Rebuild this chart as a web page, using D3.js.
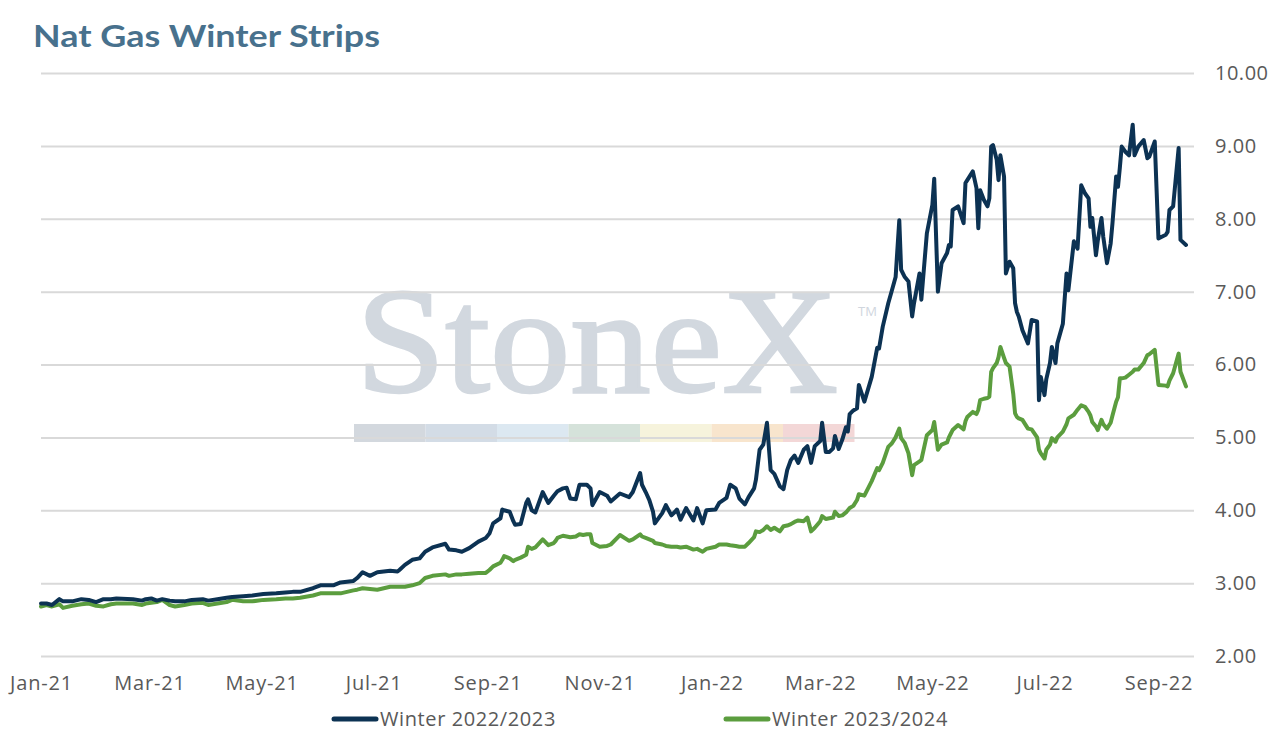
<!DOCTYPE html>
<html>
<head>
<meta charset="utf-8">
<script src="https://cdn.jsdelivr.net/npm/d3@7"></script>
<style>
  body { margin: 0; background: #fff; }
  svg { display: block; }
</style>
</head>
<body>
<svg width="1272" height="743"></svg>
<script>
// dates shared by both strips
var dates = [
  "2021-01-01","2021-01-04","2021-01-07","2021-01-11","2021-01-13","2021-01-18","2021-01-23","2021-01-27","2021-01-31",
  "2021-02-04","2021-02-08","2021-02-11","2021-02-20","2021-02-25","2021-02-27",
  "2021-03-02","2021-03-05","2021-03-08","2021-03-12","2021-03-15","2021-03-20","2021-03-24","2021-03-30",
  "2021-04-02","2021-04-07","2021-04-12","2021-04-15","2021-04-21","2021-04-26",
  "2021-05-02","2021-05-09","2021-05-14","2021-05-18","2021-05-22","2021-05-29",
  "2021-06-02","2021-06-09","2021-06-13","2021-06-20","2021-06-22","2021-06-25","2021-06-29",
  "2021-07-03","2021-07-10","2021-07-14","2021-07-15","2021-07-18","2021-07-22","2021-07-26","2021-07-29",
  "2021-08-02","2021-08-09","2021-08-11","2021-08-15","2021-08-18","2021-08-22","2021-08-27","2021-08-31",
  "2021-09-02","2021-09-04","2021-09-08","2021-09-09","2021-09-10","2021-09-13","2021-09-15","2021-09-16","2021-09-19",
  "2021-09-22","2021-09-23","2021-09-25","2021-09-27",
  "2021-10-01","2021-10-04","2021-10-07","2021-10-08","2021-10-09","2021-10-12","2021-10-14","2021-10-16","2021-10-19",
  "2021-10-21","2021-10-23","2021-10-25","2021-10-27","2021-10-28",
  "2021-11-01","2021-11-05","2021-11-07","2021-11-12","2021-11-17","2021-11-19","2021-11-23","2021-11-24","2021-11-26","2021-11-28","2021-11-30",
  "2021-12-01","2021-12-05","2021-12-07","2021-12-10","2021-12-12","2021-12-13","2021-12-15","2021-12-18","2021-12-22","2021-12-24","2021-12-27","2021-12-29",
  "2022-01-03","2022-01-05","2022-01-09","2022-01-11","2022-01-14","2022-01-16","2022-01-19","2022-01-21","2022-01-24","2022-01-25","2022-01-27","2022-01-29","2022-01-31",
  "2022-02-02","2022-02-04","2022-02-07","2022-02-09","2022-02-11","2022-02-13","2022-02-15","2022-02-17","2022-02-20","2022-02-22","2022-02-24","2022-02-26",
  "2022-03-01","2022-03-02","2022-03-04","2022-03-06","2022-03-08","2022-03-09","2022-03-11","2022-03-13","2022-03-15","2022-03-16","2022-03-17","2022-03-19",
  "2022-03-21","2022-03-22","2022-03-25","2022-03-29",
  "2022-04-01","2022-04-02","2022-04-04","2022-04-07","2022-04-09","2022-04-11","2022-04-13","2022-04-14","2022-04-16","2022-04-18","2022-04-20","2022-04-21",
  "2022-04-24","2022-04-25","2022-04-28",
  "2022-05-01","2022-05-02","2022-05-04","2022-05-06","2022-05-09","2022-05-10","2022-05-11","2022-05-12","2022-05-15","2022-05-18","2022-05-19","2022-05-20",
  "2022-05-23","2022-05-25","2022-05-26","2022-05-27","2022-05-29","2022-05-31",
  "2022-06-01","2022-06-02","2022-06-03","2022-06-05","2022-06-06","2022-06-07","2022-06-09","2022-06-10","2022-06-12","2022-06-14","2022-06-15","2022-06-16",
  "2022-06-17","2022-06-19","2022-06-22","2022-06-24","2022-06-27","2022-06-28","2022-06-29",
  "2022-07-01","2022-07-02","2022-07-04","2022-07-05","2022-07-07","2022-07-08","2022-07-11","2022-07-13","2022-07-14","2022-07-17","2022-07-19","2022-07-21",
  "2022-07-23","2022-07-25","2022-07-26","2022-07-27","2022-07-29","2022-07-30",
  "2022-08-01","2022-08-02","2022-08-04","2022-08-06","2022-08-07","2022-08-09","2022-08-10","2022-08-11","2022-08-12","2022-08-14","2022-08-16","2022-08-18",
  "2022-08-19","2022-08-21","2022-08-24","2022-08-26","2022-08-27","2022-08-30",
  "2022-09-01","2022-09-05","2022-09-06","2022-09-07","2022-09-09","2022-09-12","2022-09-13","2022-09-16"
];

var winter2223 = [
  2.72,2.72,2.70,2.78,2.75,2.75,2.78,2.77,2.74,
  2.78,2.78,2.79,2.78,2.76,2.78,
  2.79,2.76,2.78,2.76,2.75,2.75,2.77,2.78,
  2.76,2.78,2.80,2.81,2.82,2.83,
  2.85,2.86,2.87,2.88,2.88,2.93,
  2.97,2.97,3.01,3.03,3.07,3.15,3.10,
  3.15,3.17,3.16,3.18,3.25,3.32,3.34,3.43,
  3.49,3.54,3.46,3.45,3.43,3.48,3.57,3.62,
  3.68,3.82,3.89,4.01,4.00,3.98,3.85,3.80,3.81,
  4.10,4.15,4.00,3.97,
  4.25,4.10,4.20,4.23,4.26,4.30,4.31,4.16,4.15,
  4.35,4.35,4.35,4.30,4.07,
  4.25,4.20,4.12,4.23,4.18,4.25,4.51,4.35,4.25,4.14,3.98,
  3.82,3.96,4.07,3.93,3.98,4.01,3.87,4.03,3.86,4.03,3.82,4.00,
  4.01,4.10,4.17,4.35,4.30,4.16,4.08,4.18,4.30,4.42,4.83,4.90,5.20,
  4.55,4.50,4.33,4.29,4.55,4.69,4.75,4.65,4.83,4.88,4.65,4.88,
  4.95,5.20,4.80,4.80,4.85,5.02,4.84,4.97,5.14,5.08,5.32,5.37,
  5.40,5.72,5.49,5.83,
  6.23,6.22,6.52,6.84,7.02,7.20,7.98,7.30,7.20,7.14,6.66,6.84,
  7.25,6.89,7.80,
  8.19,8.55,7.00,7.39,7.53,7.64,7.62,8.12,8.17,7.94,8.49,8.53,
  8.65,8.42,7.87,8.39,8.26,8.17,
  8.28,8.99,9.01,8.81,8.53,8.87,8.58,7.25,7.41,7.32,6.84,6.72,
  6.66,6.47,6.29,6.61,6.59,5.51,5.83,
  5.58,5.80,6.02,6.24,6.02,6.29,6.56,7.25,7.02,7.69,7.59,8.46,
  8.35,8.28,7.89,8.01,7.50,7.70,
  8.01,7.75,7.39,7.66,7.94,8.58,8.44,8.70,8.99,8.92,8.87,9.29,
  8.87,8.99,9.08,8.83,8.85,9.06,
  7.73,7.78,7.82,8.12,8.17,8.97,7.71,7.64
];

var winter2324 = [
  2.68,2.70,2.68,2.71,2.66,2.69,2.71,2.72,2.69,
  2.68,2.71,2.72,2.72,2.70,2.72,
  2.73,2.74,2.77,2.70,2.68,2.70,2.72,2.73,
  2.70,2.72,2.74,2.77,2.75,2.75,
  2.77,2.78,2.79,2.79,2.80,2.83,
  2.86,2.86,2.86,2.90,2.91,2.93,2.92,
  2.91,2.95,2.95,2.95,2.95,2.97,3.00,3.07,
  3.10,3.12,3.10,3.12,3.12,3.13,3.14,3.14,
  3.18,3.23,3.28,3.32,3.37,3.34,3.30,3.32,3.35,
  3.39,3.50,3.47,3.49,
  3.60,3.52,3.55,3.58,3.62,3.65,3.64,3.63,3.64,
  3.67,3.66,3.67,3.67,3.55,
  3.50,3.51,3.53,3.66,3.58,3.60,3.67,3.64,3.62,3.60,3.58,
  3.55,3.53,3.51,3.50,3.50,3.50,3.49,3.50,3.46,3.47,3.43,3.47,
  3.50,3.53,3.53,3.52,3.51,3.50,3.50,3.55,3.63,3.71,3.70,3.73,3.78,
  3.73,3.76,3.71,3.78,3.79,3.81,3.84,3.86,3.85,3.90,3.71,3.76,
  3.85,3.92,3.88,3.89,3.90,3.98,3.92,3.93,3.97,4.00,4.03,4.06,
  4.14,4.22,4.20,4.40,
  4.58,4.55,4.65,4.87,4.92,5.00,5.12,4.99,4.92,4.78,4.48,4.62,
  4.67,4.69,5.03,
  5.10,5.21,4.83,4.90,4.93,5.00,5.05,5.10,5.17,5.11,5.22,5.28,
  5.35,5.32,5.38,5.51,5.53,5.54,
  5.56,5.90,5.95,6.02,6.10,6.24,6.09,6.02,5.97,5.60,5.33,5.28,
  5.26,5.24,5.12,5.11,5.00,4.83,4.78,
  4.71,4.83,4.90,4.99,4.94,5.00,5.08,5.18,5.26,5.31,5.38,5.44,
  5.42,5.35,5.30,5.21,5.15,5.10,
  5.24,5.18,5.12,5.20,5.30,5.49,5.55,5.81,5.81,5.82,5.86,5.90,
  5.93,5.93,6.02,6.13,6.14,6.20,
  5.72,5.71,5.70,5.78,5.88,6.15,5.90,5.70
];

var yTicks = [2, 3, 4, 5, 6, 7, 8, 9, 10];
var xTickDates = ["2021-01-01","2021-03-01","2021-05-01","2021-07-01","2021-09-01","2021-11-01",
                  "2022-01-01","2022-03-01","2022-05-01","2022-07-01","2022-09-01"];
var seriesNames = ["Winter 2022/2023", "Winter 2023/2024"];
var seriesColors = ["#0c3253", "#5b9d3e"];
var watermarkColors = ["#d3d8de", "#d3dce6", "#dce8f1", "#d5e2da", "#f6f3dc", "#f8e5cd", "#f3d7d7"];

var parse = d3.timeParse("%Y-%m-%d");
var svg = d3.select("svg");

var plotLeft = 41, plotRight = 1194, plotTop = 73, plotBottom = 656;

var x = d3.scaleTime()
    .domain([parse("2021-01-01"), parse("2022-09-16")])
    .range([plotLeft, 1186]);

var y = d3.scaleLinear()
    .domain([2, 10])
    .range([plotBottom, plotTop]);

// title
svg.append("text")
    .attr("x", 33)
    .attr("y", 47)
    .text("Nat Gas Winter Strips")
    .attr("font-family", "Lato, 'Open Sans', sans-serif")
    .attr("font-size", 30)
    .attr("font-weight", "bold")
    .attr("textLength", 347)
    .attr("lengthAdjust", "spacingAndGlyphs")
    .attr("fill", "#48718d");

// StoneX watermark behind everything
var wm = svg.append("g").attr("class", "watermark");
wm.append("text")
    .attr("x", 356)
    .attr("y", 392)
    .text("StoneX")
    .attr("font-family", "'Liberation Serif', 'DejaVu Serif', serif")
    .attr("font-size", 150)
    .attr("textLength", 482)
    .attr("lengthAdjust", "spacingAndGlyphs")
    .attr("fill", "#d2d8df")
    .attr("stroke", "#d2d8df")
    .attr("stroke-width", 2.5);
wm.append("text")
    .attr("x", 858)
    .attr("y", 316)
    .text("TM")
    .attr("font-family", "'Open Sans', sans-serif")
    .attr("font-size", 13)
    .attr("fill", "#d0d6de");
wm.selectAll("rect")
    .data(watermarkColors)
    .enter()
    .append("rect")
    .attr("x", function(d, i) { return 354 + i * 71.5; })
    .attr("y", 424)
    .attr("width", 71.5)
    .attr("height", 18)
    .attr("fill", function(d) { return d; });

// y axis on the right with gridlines
var yAxis = d3.axisRight(y)
    .tickValues(yTicks)
    .tickFormat(d3.format(".2f"))
    .tickSize(-(plotRight - plotLeft))
    .tickPadding(21);

var gy = svg.append("g")
    .attr("class", "y axis")
    .attr("transform", "translate(" + plotRight + ",0)")
    .call(yAxis);
gy.select(".domain").remove();
gy.selectAll("line").attr("stroke", "#d9d9d9").attr("stroke-width", 2);
gy.selectAll("text")
    .attr("font-family", "'Open Sans', sans-serif")
    .attr("font-size", 20)
    .attr("letter-spacing", 0.5)
    .attr("fill", "#595959");

// x axis
var xAxis = d3.axisBottom(x)
    .tickValues(xTickDates.map(parse))
    .tickFormat(d3.timeFormat("%b-%y"))
    .tickSize(0)
    .tickPadding(20);

var gx = svg.append("g")
    .attr("class", "x axis")
    .attr("transform", "translate(0," + plotBottom + ")")
    .call(xAxis);
gx.select(".domain").remove();
gx.selectAll("text")
    .attr("font-family", "'Open Sans', sans-serif")
    .attr("font-size", 20)
    .attr("letter-spacing", 0.8)
    .attr("fill", "#595959");

// lines
var line = d3.line()
    .x(function(d) { return x(d.date); })
    .y(function(d) { return y(d.value); });

var series = [winter2223, winter2324].map(function(vals, i) {
    return {
        name: seriesNames[i],
        color: seriesColors[i],
        values: dates.map(function(d, j) { return { date: parse(d), value: vals[j] }; })
    };
});

svg.selectAll("path.series")
    .data(series.slice().reverse())
    .enter()
    .append("path")
    .attr("class", "series")
    .attr("d", function(d) { return line(d.values); })
    .attr("fill", "none")
    .attr("stroke", function(d) { return d.color; })
    .attr("stroke-width", 4)
    .attr("stroke-linejoin", "round")
    .attr("stroke-linecap", "round");

// legend
var legendX = [334, 726];
var legend = svg.selectAll("g.legend")
    .data(series)
    .enter()
    .append("g")
    .attr("class", "legend")
    .attr("transform", function(d, i) { return "translate(" + legendX[i] + ",719)"; });
legend.append("line")
    .attr("x1", 0).attr("x2", 42)
    .attr("y1", 0).attr("y2", 0)
    .attr("stroke", function(d) { return d.color; })
    .attr("stroke-width", 5)
    .attr("stroke-linecap", "round");
legend.append("text")
    .attr("x", 46)
    .attr("y", 7)
    .text(function(d) { return d.name; })
    .attr("font-family", "'Open Sans', sans-serif")
    .attr("font-size", 20)
    .attr("letter-spacing", 0.6)
    .attr("fill", "#595959");
</script>
</body>
</html>
